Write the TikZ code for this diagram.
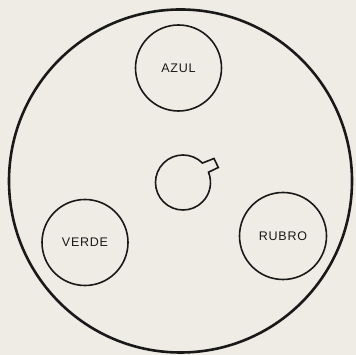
\documentclass[tikz,border=0pt]{standalone}
\usepackage{fontspec}
\setmainfont{Liberation Sans}[LetterSpace=6]
\usetikzlibrary{calc}
\begin{document}
\begin{tikzpicture}[x=1pt,y=1pt,
  paper/.style={fill={rgb,255:red,238;green,236;blue,228}},
  ink/.style={draw={rgb,255:red,25;green,25;blue,25}},
  filter/.style={circle,ink,line width=1.6pt,inner sep=0pt,minimum size=86pt,
    font=\fontsize{12.5}{14}\selectfont,text={rgb,255:red,25;green,25;blue,25}}]
\path[paper,use as bounding box] (0,0) rectangle (356,355);
\node[circle,ink,line width=2.6pt,inner sep=0pt,minimum size=343pt] (disc) at (180.5,174) {};
\node[filter] (azul) at (178.5,287) {AZUL};
\node[filter] (verde) at (85,112.5) {VERDE};
\node[filter,minimum size=87pt] (rubro) at (283,119) {RUBRO};
\coordinate (hub) at (183,172.5);
\draw[ink,line width=1.6pt,line join=miter]
  ($(hub)+(45:27.5)$) arc[start angle=45,end angle=382,radius=27.5]
  -- ++(9.8,4.7) -- ++(-4.3,9) -- cycle;
\end{tikzpicture}
\end{document}
